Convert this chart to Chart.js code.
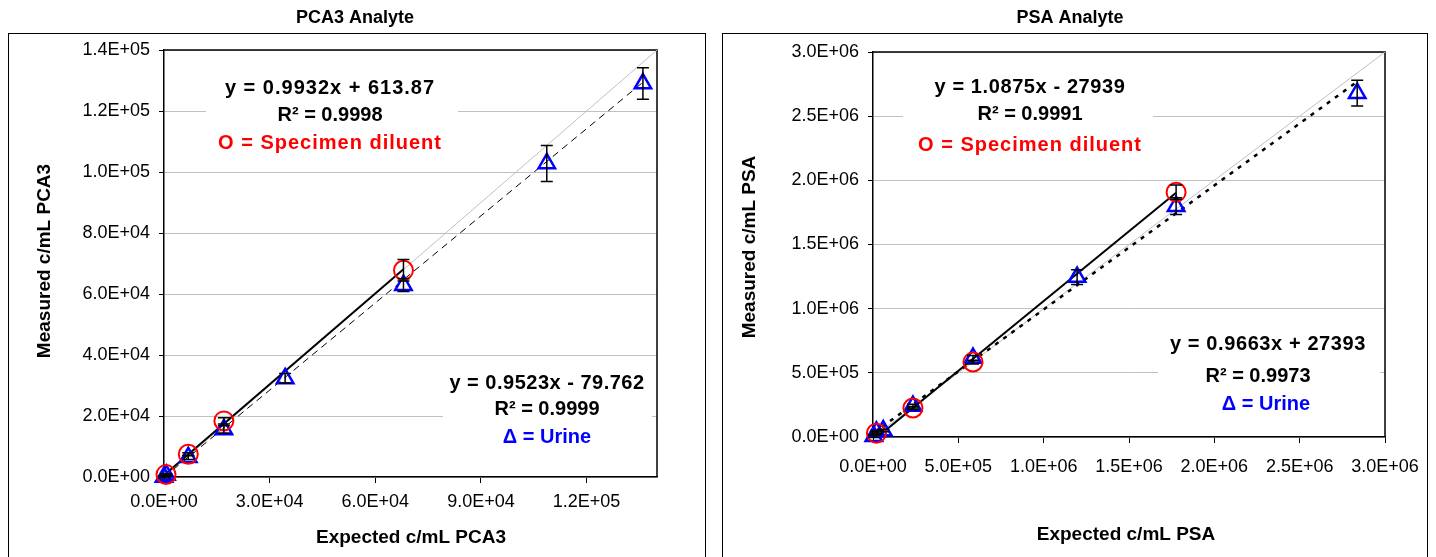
<!DOCTYPE html>
<html>
<head>
<meta charset="utf-8">
<script src="https://cdn.jsdelivr.net/npm/chart.js@4.4.1/dist/chart.umd.min.js"></script>
<style>
  body { margin: 0; background: #fff; width: 1436px; height: 557px; overflow: hidden; position: relative; }
  .frame { position: absolute; top: 33px; height: 600px; border: 1px solid #000; box-sizing: border-box; }
  canvas { position: absolute; top: 0; }
</style>
</head>
<body>
<div class="frame" style="left:8px;width:698px"></div>
<div class="frame" style="left:722px;width:706px"></div>
<canvas id="pca" width="718" height="557" style="left:0"></canvas>
<canvas id="psa" width="718" height="557" style="left:718px"></canvas>
<script>
const FONT = "'Liberation Sans', Arial, sans-serif";

// ---- PCA3 data ----
const pcaMax = 140000;
const pcaYTicks = [0, 20000, 40000, 60000, 80000, 100000, 120000, 140000];
const pcaYLabels = ['0.0E+00', '2.0E+04', '4.0E+04', '6.0E+04', '8.0E+04', '1.0E+05', '1.2E+05', '1.4E+05'];
const pcaXTicks = [0, 30000, 60000, 90000, 120000];
const pcaXLabels = ['0.0E+00', '3.0E+04', '6.0E+04', '9.0E+04', '1.2E+05'];
const pcaDilX = [570, 6900, 17000, 68000];
const pcaDilY = [790, 7450, 18400, 67800];
const pcaDilErr = [300, 500, 1000, 3500];
const pcaUriX = [0, 700, 6900, 17000, 34400, 68000, 108700, 136000];
const pcaUriY = [0, 650, 6460, 15600, 32300, 62900, 102800, 129000];
const pcaUriErr = [300, 300, 700, 1200, 1600, 2100, 5900, 5150];
const pcaDilFit = [0.9932, 613.87];
const pcaUriFit = [0.9523, -79.762];

// ---- PSA data ----
const psaMax = 3000000;
const psaYTicks = [0, 500000, 1000000, 1500000, 2000000, 2500000, 3000000];
const psaYLabels = ['0.0E+00', '5.0E+05', '1.0E+06', '1.5E+06', '2.0E+06', '2.5E+06', '3.0E+06'];
const psaXTicks = [0, 500000, 1000000, 1500000, 2000000, 2500000, 3000000];
const psaXLabels = ['0.0E+00', '5.0E+05', '1.0E+06', '1.5E+06', '2.0E+06', '2.5E+06', '3.0E+06'];
const psaDilX = [20000, 234000, 586000, 1776000];
const psaDilY = [30000, 226000, 584000, 1908000];
const psaDilErr = [10000, 12000, 15000, 55000];
const psaUriX = [5000, 20000, 60000, 234000, 586000, 1196000, 1776000, 2837000];
const psaUriY = [5000, 40000, 50000, 241000, 615000, 1246000, 1799000, 2679000];
const psaUriErr = [8000, 10000, 10000, 15000, 20000, 58000, 65000, 100000];
const psaDilFit = [1.0875, -27939];
const psaUriFit = [0.9663, 27393];

const pts = (xs, ys) => xs.map((x, i) => ({ x: x, y: ys[i] }));
const fitLine = (xs, f) => [xs[0], xs[xs.length - 1]].map(x => ({ x: x, y: f[0] * x + f[1] }));

const errorBars = {
  id: 'errorBars',
  afterDatasetsDraw(chart) {
    const { ctx, scales: { x, y } } = chart;
    ctx.save();
    ctx.strokeStyle = '#000';
    ctx.lineWidth = 1.5;
    chart.data.datasets.forEach(ds => {
      if (!ds.errors) return;
      ds.data.forEach((p, i) => {
        const e = ds.errors[i];
        const px = x.getPixelForValue(p.x);
        const top = y.getPixelForValue(p.y + e);
        const bot = y.getPixelForValue(p.y - e);
        ctx.beginPath();
        ctx.moveTo(px, top); ctx.lineTo(px, bot);
        ctx.moveTo(px - 6, top); ctx.lineTo(px + 6, top);
        ctx.moveTo(px - 6, bot); ctx.lineTo(px + 6, bot);
        ctx.stroke();
      });
    });
    ctx.restore();
  }
};

function decor(c) {
  return {
    id: 'decor',
    beforeDatasetsDraw(chart) {
      const { ctx, chartArea: a } = chart;
      ctx.save();
      // top and right border of plot area
      ctx.strokeStyle = '#000';
      ctx.lineWidth = 1.5;
      ctx.beginPath();
      ctx.moveTo(a.left, a.top); ctx.lineTo(a.right, a.top); ctx.lineTo(a.right, a.bottom);
      ctx.stroke();
      // equation boxes
      c.boxes.forEach(b => {
        ctx.fillStyle = '#fff';
        ctx.fillRect(b.x, b.y, b.w, b.h);
        ctx.font = 'bold 20px ' + FONT;
        ctx.textAlign = 'center';
        ctx.textBaseline = 'middle';
        b.lines.forEach(l => {
          ctx.letterSpacing = (l.ls || 0) + 'px';
          ctx.fillStyle = l.c;
          ctx.fillText(l.t, l.x, l.y);
        });
      });
      ctx.restore();
    },
    afterDraw(chart) {
      const ctx = chart.ctx;
      ctx.save();
      ctx.fillStyle = '#000';
      ctx.textAlign = 'center';
      ctx.textBaseline = 'middle';
      ctx.font = 'bold 18px ' + FONT;
      ctx.fillText(c.title, c.titleX, 18);
      ctx.font = 'bold 19px ' + FONT;
      ctx.fillText(c.xTitle, c.xTitleX, c.xTitleY);
      ctx.translate(c.yTitleX, c.yTitleY);
      ctx.rotate(-Math.PI / 2);
      ctx.fillText(c.yTitle, 0, 0);
      ctx.restore();
    }
  };
}

function makeChart(id, c) {
  return new Chart(document.getElementById(id), {
    type: 'scatter',
    data: {
      datasets: [
        { type: 'line', data: [{ x: 0, y: 0 }, { x: c.max, y: c.max }], borderColor: '#c0c0c0', borderWidth: 1,
          pointRadius: 0, order: 5 },
        { type: 'line', data: c.dilFit, borderColor: '#000', borderWidth: 2, pointRadius: 0, order: 4 },
        { type: 'line', data: c.uriFit, borderColor: '#000', borderWidth: c.dashW, borderDash: c.dash,
          pointRadius: 0, order: 3 },
        { data: c.uri, pointStyle: 'triangle', pointRadius: 9.5, borderColor: '#0000ff', borderWidth: 2.5,
          backgroundColor: 'rgba(0,0,0,0)', clip: false, order: 2, errors: c.uriErr },
        { data: c.dil, pointStyle: 'circle', pointRadius: 9.5, borderColor: '#ff0000', borderWidth: 2,
          backgroundColor: 'rgba(0,0,0,0)', clip: false, order: 1, errors: c.dilErr }
      ]
    },
    options: {
      responsive: false,
      animation: false,
      devicePixelRatio: 1,
      layout: { padding: { left: 0, right: c.padRight, top: c.padTop, bottom: 0 } },
      plugins: { legend: { display: false }, tooltip: { enabled: false } },
      scales: {
        x: {
          type: 'linear', min: 0, max: c.max,
          afterFit: s => { s.height = c.xAxisH; },
          afterBuildTicks: s => { s.ticks = c.xTicks.map(v => ({ value: v })); },
          ticks: { callback: (v, i) => c.xLabels[i], color: '#000', font: { family: FONT, size: 18 },
                   padding: c.xPad, maxRotation: 0, autoSkip: false },
          grid: { drawOnChartArea: false, tickColor: '#000', tickLength: 6 },
          border: { color: '#000', width: 1.5 }
        },
        y: {
          type: 'linear', min: 0, max: c.max,
          afterFit: s => { s.width = c.yAxisW; },
          afterBuildTicks: s => { s.ticks = c.yTicks.map(v => ({ value: v })); },
          ticks: { callback: (v, i) => c.yLabels[i], color: '#000', font: { family: FONT, size: 18 },
                   padding: 9, autoSkip: false },
          grid: { color: '#c0c0c0', lineWidth: 1, tickColor: '#000', tickLength: 5 },
          border: { color: '#000', width: 1.5 }
        }
      }
    },
    plugins: [decor(c), errorBars]
  });
}

makeChart('pca', {
  max: pcaMax,
  xTicks: pcaXTicks, xLabels: pcaXLabels, yTicks: pcaYTicks, yLabels: pcaYLabels,
  dil: pts(pcaDilX, pcaDilY), dilErr: pcaDilErr,
  uri: pts(pcaUriX, pcaUriY), uriErr: pcaUriErr,
  dilFit: fitLine(pcaDilX, pcaDilFit), uriFit: fitLine(pcaUriX, pcaUriFit),
  dash: [7, 5], dashW: 1,
  padTop: 50, padRight: 61, yAxisW: 164, xAxisH: 80, xPad: 8,
  title: 'PCA3 Analyte', titleX: 355,
  xTitle: 'Expected c/mL PCA3', xTitleX: 411, xTitleY: 538,
  yTitle: 'Measured c/mL PCA3', yTitleX: 45, yTitleY: 261,
  boxes: [
    { x: 206, y: 70, w: 252, h: 88, lines: [
      { t: 'y = 0.9932x + 613.87', c: '#000', x: 330, y: 88, ls: 1 },
      { t: 'R² = 0.9998', c: '#000', x: 330, y: 115 },
      { t: 'O = Specimen diluent', c: '#ff0000', x: 330, y: 143, ls: 1 } ] },
    { x: 443, y: 365, w: 209, h: 87, lines: [
      { t: 'y = 0.9523x - 79.762', c: '#000', x: 547, y: 383, ls: 0.5 },
      { t: 'R² = 0.9999', c: '#000', x: 547, y: 409 },
      { t: 'Δ = Urine', c: '#0000ff', x: 547, y: 437 } ] }
  ]
});

makeChart('psa', {
  max: psaMax,
  xTicks: psaXTicks, xLabels: psaXLabels, yTicks: psaYTicks, yLabels: psaYLabels,
  dil: pts(psaDilX, psaDilY), dilErr: psaDilErr,
  uri: pts(psaUriX, psaUriY), uriErr: psaUriErr,
  dilFit: fitLine(psaDilX, psaDilFit), uriFit: fitLine(psaUriX, psaUriFit),
  dash: [4, 6], dashW: 2.5,
  padTop: 52, padRight: 51, yAxisW: 155, xAxisH: 120, xPad: 13,
  title: 'PSA Analyte', titleX: 352,
  xTitle: 'Expected c/mL PSA', xTitleX: 408, xTitleY: 535,
  yTitle: 'Measured c/mL PSA', yTitleX: 32, yTitleY: 247,
  boxes: [
    { x: 185, y: 68, w: 250, h: 92, lines: [
      { t: 'y = 1.0875x - 27939', c: '#000', x: 312, y: 87, ls: 0.6 },
      { t: 'R² = 0.9991', c: '#000', x: 312, y: 114 },
      { t: 'O = Specimen diluent', c: '#ff0000', x: 312, y: 145, ls: 1 } ] },
    { x: 440, y: 325, w: 222, h: 95, lines: [
      { t: 'y = 0.9663x + 27393', c: '#000', x: 550, y: 344, ls: 0.6 },
      { t: 'R² = 0.9973', c: '#000', x: 540, y: 376 },
      { t: 'Δ = Urine', c: '#0000ff', x: 548, y: 404 } ] }
  ]
});
</script>
</body>
</html>
